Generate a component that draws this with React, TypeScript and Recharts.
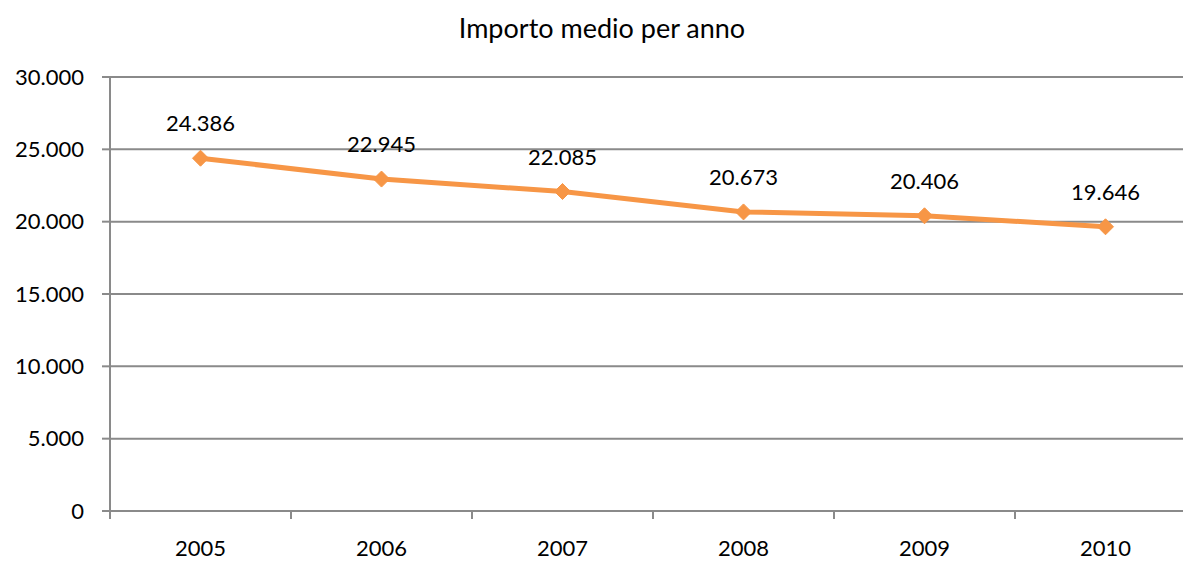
import { LineChart, Line, XAxis, YAxis, CartesianGrid, LabelList } from "recharts"

const years = ["2005", "2006", "2007", "2008", "2009", "2010"]
const importo = [24386, 22945, 22085, 20673, 20406, 19646]
const yTicks = [0, 5000, 10000, 15000, 20000, 25000, 30000]

const data = years.map((anno, i) => ({ anno, importo: importo[i] }))

const fmt = (v: number) => String(v).replace(/\B(?=(\d{3})+(?!\d))/g, ".")

const FONT = "Lato, 'Open Sans', sans-serif"
const GRID = "#8a8a8a"
const ORANGE = "#F79646"
const HALF = 90.5

const Diamond = (props: any) => {
  const { cx, cy } = props
  if (cx == null || cy == null) return null
  const r = 8
  return (
    <polygon
      points={`${cx},${cy - r} ${cx + r},${cy} ${cx},${cy + r} ${cx - r},${cy}`}
      fill={ORANGE}
      stroke={ORANGE}
    />
  )
}

// category ticks sit between the years, like the original
const XTick = (props: any) => {
  const { x, y, payload, index } = props
  return (
    <g>
      <line x1={x - HALF} y1={y - 29} x2={x - HALF} y2={y - 21} stroke={GRID} strokeWidth={2} />
      {index === years.length - 1 && (
        <line x1={x + HALF} y1={y - 29} x2={x + HALF} y2={y - 21} stroke={GRID} strokeWidth={2} />
      )}
      <text x={x} y={y} dy="0.71em" textAnchor="middle" fill="#000" fontSize={22} fontFamily={FONT}>
        {payload.value}
      </text>
    </g>
  )
}

export default function App() {
  return (
    <div style={{ position: "absolute", left: 0, top: 0, width: 1183, height: 562, overflow: "hidden", background: "#fff" }}>
      <div
        style={{
          position: "absolute",
          top: 12,
          left: 0,
          width: 1204,
          textAlign: "center",
          fontFamily: FONT,
          fontSize: 27,
          lineHeight: "32px",
          color: "#000",
        }}
      >
        Importo medio per anno
      </div>
      <LineChart width={1200} height={562} data={data} margin={{ top: 77, right: 4, bottom: 0, left: 0 }}>
        <CartesianGrid vertical={false} stroke={GRID} strokeWidth={2} />
        <XAxis
          dataKey="anno"
          height={51}
          padding={{ left: HALF, right: HALF }}
          axisLine={{ stroke: GRID, strokeWidth: 2 }}
          tickLine={false}
          tickSize={0}
          tickMargin={29}
          tick={<XTick />}
          interval={0}
        />
        <YAxis
          width={110}
          domain={[0, 30000]}
          ticks={yTicks}
          tickFormatter={fmt}
          axisLine={{ stroke: GRID, strokeWidth: 2 }}
          tickLine={{ stroke: GRID, strokeWidth: 2 }}
          tickSize={8}
          tickMargin={18}
          tick={{ fill: "#000", fontSize: 22, fontFamily: FONT }}
          interval={0}
        />
        <Line
          type="linear"
          dataKey="importo"
          stroke={ORANGE}
          strokeWidth={5}
          dot={<Diamond />}
          activeDot={false}
          isAnimationActive={false}
        >
          <LabelList
            dataKey="importo"
            position="top"
            offset={27}
            formatter={(v: any) => fmt(Number(v))}
            style={{ fill: "#000", fontSize: 22, fontFamily: FONT }}
          />
        </Line>
      </LineChart>
    </div>
  )
}
